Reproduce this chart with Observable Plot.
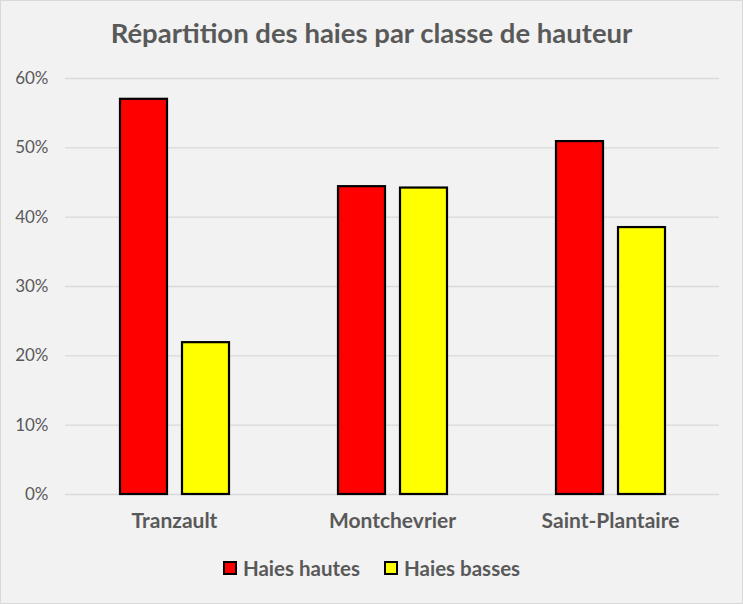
<!DOCTYPE html>
<html>
<head>
<meta charset="utf-8">
<script src="https://cdn.jsdelivr.net/npm/d3@7"></script>
<script src="https://cdn.jsdelivr.net/npm/@observablehq/plot@0.6"></script>
<style>
  html, body { margin: 0; padding: 0; background: #f2f2f2; }
  #wrap { position: relative; width: 743px; height: 604px; background: #f2f2f2; overflow: hidden; font-family: Lato, "Open Sans", sans-serif; }
  #frame { position: absolute; left: 0; top: 0; width: 743px; height: 604px; box-sizing: border-box; border: 1px solid #d9d9d9; pointer-events: none; }
  #title { position: absolute; left: 0; width: 743px; top: 16px; text-align: center; font-weight: bold; font-size: 27.5px; color: #595959; }
  #chart { position: absolute; left: 0; top: 60px; }
  #legend { position: absolute; left: 0; width: 743px; top: 556px; display: flex; justify-content: center; align-items: center; font-size: 20.5px; color: #595959; font-weight: bold; }
  .item { display: flex; align-items: center; margin: 0 12px; }
  .sw { width: 10px; height: 10px; border: 2px solid #000; margin-right: 6px; }
</style>
</head>
<body>
<div id="wrap">
  <div id="title">Répartition des haies par classe de hauteur</div>
  <div id="chart"></div>
  <div id="legend"></div>
  <div id="frame"></div>
</div>
<script>
const categories = ["Tranzault", "Montchevrier", "Saint-Plantaire"];
const series = ["Haies hautes", "Haies basses"];
const hautes = [0.570, 0.444, 0.509];
const basses = [0.219, 0.442, 0.385];
const yTicks = [0, 0.1, 0.2, 0.3, 0.4, 0.5, 0.6];
const colors = ["#ff0000", "#ffff00"];

const data = [];
categories.forEach((c, i) => {
  data.push({site: c, serie: series[0], value: hautes[i]});
  data.push({site: c, serie: series[1], value: basses[i]});
});

const chart = Plot.plot({
  width: 743,
  height: 480,
  marginTop: 18,
  marginBottom: 46,
  marginLeft: 64,
  marginRight: 24,
  style: {background: "transparent", fontFamily: "Lato, 'Open Sans', sans-serif"},
  fx: {domain: categories, padding: 0, label: null, axis: "bottom", tickSize: 0, tickPadding: 19},
  x: {domain: series, axis: null, paddingInner: 0.242, paddingOuter: 0.865},
  y: {domain: [0, 0.6], ticks: yTicks, tickFormat: d3.format(".0%"), tickSize: 0, tickPadding: 17, label: null},
  color: {domain: series, range: colors},
  marks: [
    Plot.ruleY(yTicks, {stroke: "#d9d9d9", strokeWidth: 1.3}),
    Plot.barY(data, {fx: "site", x: "serie", y: "value", fill: "serie", stroke: "#000", strokeWidth: 2.2, inset: 0})
  ]
});

// style axis text
d3.select(chart).selectAll("g[aria-label='y-axis tick label']")
  .attr("font-size", 17).attr("fill", "#595959");
d3.select(chart).selectAll("g[aria-label='fx-axis tick label']")
  .attr("font-size", 21).attr("font-weight", "bold").attr("fill", "#595959");
document.getElementById("chart").appendChild(chart);

const legend = document.getElementById("legend");
series.forEach((s, i) => {
  const item = document.createElement("div");
  item.className = "item";
  const sw = document.createElement("div");
  sw.className = "sw";
  sw.style.background = colors[i];
  const lab = document.createElement("span");
  lab.textContent = s;
  item.appendChild(sw);
  item.appendChild(lab);
  legend.appendChild(item);
});
</script>
</body>
</html>
